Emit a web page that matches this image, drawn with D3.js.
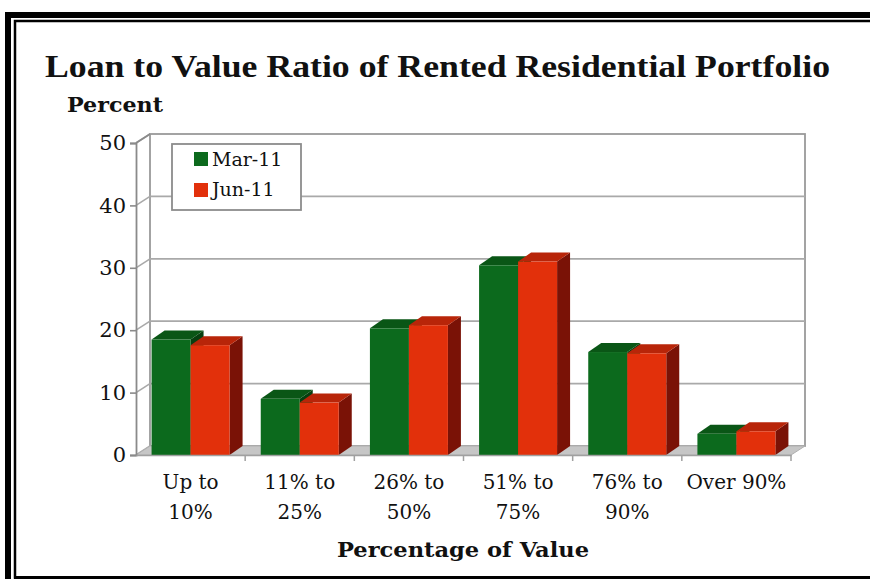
<!DOCTYPE html>
<html><head><meta charset="utf-8">
<script src="https://cdn.jsdelivr.net/npm/d3@7"></script>
<style>
html,body{margin:0;padding:0;background:#fff;}
svg{display:block;}
text{font-family:"DejaVu Serif","Liberation Serif",serif;fill:#111;}
</style></head>
<body>
<script>
const categories = ["Up to|10%", "11% to|25%", "26% to|50%", "51% to|75%", "76% to|90%", "Over 90%"];
const seriesNames = ["Mar-11", "Jun-11"];
const mar11 = [18.5, 9.0, 20.3, 30.4, 16.5, 3.4];
const jun11 = [17.6, 8.4, 20.8, 31.0, 16.3, 3.8];
const yTicks = [0, 10, 20, 30, 40, 50];

const W = 870, H = 579;
const svg = d3.select("body").append("svg").attr("width", W).attr("height", H);

// frame
svg.append("rect").attr("x", 8).attr("y", 15).attr("width", 900).attr("height", 600)
  .attr("fill", "none").attr("stroke", "#000").attr("stroke-width", 6);
svg.append("rect").attr("x", 15).attr("y", 21).attr("width", 900).attr("height", 556.5)
  .attr("fill", "none").attr("stroke", "#000").attr("stroke-width", 2.5);
svg.append("rect").attr("x", 14).attr("y", 576).attr("width", 900).attr("height", 4).attr("fill", "#000");

const x = d3.scaleBand().domain(categories).range([136, 791]).paddingInner(0).paddingOuter(0);
const y = d3.scaleLinear().domain([0, 50]).range([455, 143]);
const DX = 14, DY = -9;      // wall depth
const BX = 13, BY = -9;      // bar depth
const x0 = x.range()[0], x1 = x.range()[1];
const gridCol = "#a9a9a9";

// back wall
svg.append("rect").attr("x", x0 + DX).attr("y", y(50) + DY).attr("width", x1 - x0)
  .attr("height", y(0) - y(50)).attr("fill", "#fff").attr("stroke", "#9a9a9a").attr("stroke-width", 1.8);
// back wall gridlines
svg.append("g").selectAll("line").data(yTicks.filter(d => d > 0 && d < 50)).join("line")
  .attr("x1", x0 + DX).attr("x2", x1 + DX)
  .attr("y1", d => y(d) + DY).attr("y2", d => y(d) + DY)
  .attr("stroke", gridCol).attr("stroke-width", 1.8);
// side wall gridlines (diagonals)
svg.append("g").selectAll("line").data(yTicks).join("line")
  .attr("x1", x0).attr("x2", x0 + DX)
  .attr("y1", d => y(d)).attr("y2", d => y(d) + DY)
  .attr("stroke", gridCol).attr("stroke-width", 1.6);
// floor
svg.append("path")
  .attr("d", `M${x0},${y(0)}L${x1},${y(0)}L${x1 + DX},${y(0) + DY}L${x0 + DX},${y(0) + DY}Z`)
  .attr("fill", "#c6c6c6").attr("stroke", "#b0b0b0").attr("stroke-width", 1);

// bars
const colors = [
  {front: "#0c6a1d", top: "#0a5616", side: "#073f10"},
  {front: "#e2300b", top: "#b82509", side: "#7a1206"}
];
const bw = 39;
const groups = svg.append("g").selectAll("g").data(categories).join("g");
[mar11, jun11].forEach((vals, si) => {
  const c = colors[si];
  const bx = (i) => x(categories[i]) + x.bandwidth() / 2 - bw + si * bw;
  groups.append("path")
    .attr("d", (d, i) => {
      const X = bx(i), Y = y(vals[i]);
      return `M${X + bw},${Y}L${X + bw + BX},${Y + BY}L${X + bw + BX},${y(0) + BY}L${X + bw},${y(0)}Z`;
    }).attr("fill", c.side);
  groups.append("path")
    .attr("d", (d, i) => {
      const X = bx(i), Y = y(vals[i]);
      return `M${X},${Y}L${X + BX},${Y + BY}L${X + bw + BX},${Y + BY}L${X + bw},${Y}Z`;
    }).attr("fill", c.top);
  groups.append("rect")
    .attr("x", (d, i) => bx(i)).attr("y", (d, i) => y(vals[i]))
    .attr("width", bw).attr("height", (d, i) => y(0) - y(vals[i]))
    .attr("fill", c.front);
});

// y axis
const yAxis = svg.append("g").attr("transform", `translate(${x0},0)`)
  .call(d3.axisLeft(y).tickValues(yTicks).tickSize(6).tickPadding(4));
yAxis.select(".domain").attr("stroke", "#8a8a8a").attr("stroke-width", 1.8);
yAxis.selectAll(".tick line").attr("stroke", "#8a8a8a").attr("stroke-width", 1.6);
yAxis.selectAll(".tick text").style("font-family", "DejaVu Serif").style("font-size", "21px").attr("fill", "#111");
// top diagonal of side wall
svg.append("line").attr("x1", x0).attr("y1", y(50)).attr("x2", x0 + DX).attr("y2", y(50) + DY)
  .attr("stroke", "#8a8a8a").attr("stroke-width", 1.6);

// x axis
const xAxis = svg.append("g").attr("transform", `translate(0,${y(0)})`)
  .call(d3.axisBottom(x).tickSize(0).tickPadding(20));
xAxis.select(".domain").attr("stroke", "#a0a0a0").attr("stroke-width", 1.5);
xAxis.selectAll(".tick text").each(function(d) {
  const t = d3.select(this);
  const parts = d.split("|");
  t.text(null).style("font-family", "DejaVu Serif").style("font-size", "20px").attr("fill", "#111");
  parts.forEach((p, k) => t.append("tspan").attr("x", 0).attr("dy", k === 0 ? "0.71em" : "1.5em").text(p));
});
// boundary ticks
svg.append("g").selectAll("line")
  .data(categories.map(c => x(c)).concat([x1]).slice(1)).join("line")
  .attr("x1", d => d).attr("x2", d => d).attr("y1", y(0)).attr("y2", y(0) + 6)
  .attr("stroke", "#a0a0a0").attr("stroke-width", 1.5);

// legend
const lg = svg.append("g").attr("transform", "translate(172,144)");
lg.append("rect").attr("width", 129).attr("height", 66).attr("fill", "#fff")
  .attr("stroke", "#8c8c8c").attr("stroke-width", 1.8);
seriesNames.forEach((n, i) => {
  lg.append("rect").attr("x", 22).attr("y", 8 + i * 31).attr("width", 14).attr("height", 14).attr("fill", colors[i].front);
  lg.append("text").attr("x", 40).attr("y", 22 + i * 30).style("font-size", "19px").text(n);
});

// titles
svg.append("text").attr("x", 45).attr("y", 77).attr("textLength", 785).attr("lengthAdjust", "spacingAndGlyphs")
  .style("font-family", "Liberation Serif").style("font-size", "32px").style("font-weight", "bold")
  .text("Loan to Value Ratio of Rented Residential Portfolio");
svg.append("text").attr("x", 67).attr("y", 112).attr("textLength", 96).attr("lengthAdjust", "spacingAndGlyphs")
  .style("font-size", "21px").style("font-weight", "bold").text("Percent");
svg.append("text").attr("x", 463).attr("y", 557).attr("text-anchor", "middle")
  .attr("textLength", 252).attr("lengthAdjust", "spacingAndGlyphs")
  .style("font-size", "21px").style("font-weight", "bold").text("Percentage of Value");
</script>
</body></html>
